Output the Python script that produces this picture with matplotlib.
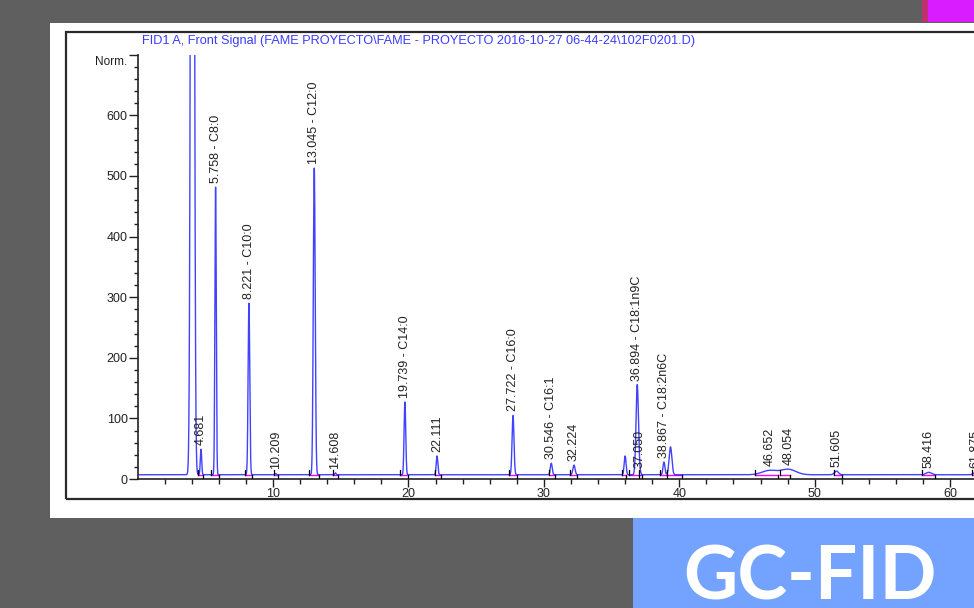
import numpy as np
import matplotlib
matplotlib.use("Agg")
import matplotlib.pyplot as plt
from matplotlib.patches import Rectangle

W, H = 974, 608

# peak table (retention time, apex height, width)
peak_rt = [4.05, 4.681, 5.758, 8.221, 10.209, 13.045, 14.608, 19.739, 22.111,
           27.722, 30.546, 32.224, 36.0, 36.894, 37.050, 38.867, 39.35,
           46.652, 48.054, 51.605, 58.416, 61.875]
peak_height = [3000, 49, 482, 290, 9, 513, 10, 127, 38,
               105, 26, 23, 38, 155, 12, 28, 53,
               14, 16, 13, 11, 11]
peak_sigma = [0.10, 0.05, 0.05, 0.06, 0.05, 0.07, 0.05, 0.06, 0.06,
              0.07, 0.07, 0.08, 0.07, 0.09, 0.08, 0.07, 0.10,
              0.55, 0.55, 0.15, 0.20, 0.15]
peak_label = ["", "4.681", "5.758 - C8:0", "8.221 - C10:0", "10.209",
              "13.045 - C12:0", "14.608", "19.739 - C14:0", "22.111",
              "27.722 - C16:0", "30.546 - C16:1", "32.224", "",
              "36.894 - C18:1n9C", "37.050", "38.867 - C18:2n6C", "",
              "46.652", "48.054", "51.605", "58.416", "61.875"]
# integration events (start / end of each peak)
int_start = [np.nan, 4.45, 5.45, 7.95, 10.05, 12.65, 14.45, 19.4, 21.95,
             27.4, 30.35, 31.95, 35.75, 36.3, 37.0, 38.6, 39.1,
             45.6, 47.4, 51.4, 57.9, 61.6]
int_end = [np.nan, 4.85, 6.0, 8.45, 10.4, 13.4, 14.8, 20.0, 22.4,
           28.0, 30.85, 32.45, 36.1, 37.0, 37.25, 39.1, 40.2,
           47.3, 48.2, 52.0, 58.9, 62.2]
baseline = 7

title = "FID1 A, Front Signal (FAME PROYECTO\\FAME - PROYECTO 2016-10-27 06-44-24\\102F0201.D)"


def fx(px):
    return px / W


def fy(py):
    return 1 - py / H


fig = plt.figure(figsize=(W / 100, H / 100), dpi=100, facecolor="#5f5f5f")

# slide decorations
fig.add_artist(Rectangle((fx(50), fy(518)), fx(930), 495 / H, transform=fig.transFigure,
                         facecolor="white", edgecolor="none", zorder=-10))
fig.add_artist(Rectangle((fx(66), fy(499)), fx(930), 467 / H, transform=fig.transFigure,
                         facecolor="none", edgecolor="#2a2a2a", lw=1.6, zorder=-5))
fig.add_artist(Rectangle((fx(922), fy(22)), fx(6), 22 / H, transform=fig.transFigure,
                         facecolor="#c0306e", edgecolor="none"))
fig.add_artist(Rectangle((fx(928), fy(22)), fx(50), 22 / H, transform=fig.transFigure,
                         facecolor="#d91cff", edgecolor="none"))
fig.add_artist(Rectangle((fx(633), 0), fx(345), 90 / H, transform=fig.transFigure,
                         facecolor="#73a2ff", edgecolor="none"))
fig.text(fx(810), fy(600), "GC-FID", ha="center", va="baseline", fontsize=54,
         fontweight="bold", family="Lato", color="white")

fig.text(fx(142), fy(41), title, ha="left", va="center", fontsize=9.2,
         family="Liberation Sans", color="#3b3bff")

# chromatogram axes
ax = fig.add_axes([fx(137.6), fy(479), (984 - 137.6) / W, (479 - 54.8) / H])
ax.set_facecolor("none")

t = np.linspace(0, 62.5, 12501)
signal = np.full_like(t, baseline, dtype=float)
for rt, h, s in zip(peak_rt, peak_height, peak_sigma):
    signal += (h - baseline) * np.exp(-0.5 * ((t - rt) / s) ** 2)

ax.plot(t, signal, color="#2020ff", lw=1.0, alpha=0.85, zorder=3)

for s0, s1 in zip(int_start, int_end):
    if np.isnan(s0):
        continue
    ax.plot([s0, s1], [baseline, baseline], color="#ff00ff", lw=1.0, zorder=2)
    ax.plot([s0, s0], [baseline, baseline + 8], color="black", lw=0.9, zorder=4)
    ax.plot([s1, s1], [baseline, baseline - 8], color="black", lw=0.9, zorder=4)

for rt, h, lab in zip(peak_rt, peak_height, peak_label):
    if lab:
        ax.annotate(lab, (rt, h), xytext=(0, 3), textcoords="offset points",
                    rotation=90, ha="center", va="bottom", fontsize=9,
                    family="Liberation Sans", color="#222222",
                    annotation_clip=False)

ax.set_xlim(0, 62.5)
ax.set_ylim(0, 700)
ax.set_xticks(range(10, 70, 10))
ax.set_xticks(np.arange(2, 64, 2), minor=True)
ax.set_yticks(range(0, 800, 100))
ax.set_yticklabels([str(v) for v in range(0, 700, 100)] + [""])
ax.set_yticks(range(0, 720, 20), minor=True)

for side in ["top", "right"]:
    ax.spines[side].set_visible(False)
for side in ["left", "bottom"]:
    ax.spines[side].set_color("#222222")
    ax.spines[side].set_linewidth(1.2)

ax.tick_params(axis="x", which="major", length=5.8, width=1, pad=1, labelsize=9,
               color="#222222", labelcolor="#222222")
ax.tick_params(axis="x", which="minor", length=3.4, width=1, color="#222222")
ax.tick_params(axis="y", which="major", length=6.2, width=1, pad=1, labelsize=9,
               color="#222222", labelcolor="#222222")
ax.tick_params(axis="y", which="minor", length=3.0, width=1, color="#222222")
for lbl in ax.get_xticklabels() + ax.get_yticklabels():
    lbl.set_family("Liberation Sans")

ax.text(-0.0125, 688, "Norm.", transform=ax.get_yaxis_transform(), ha="right",
        va="center", fontsize=8.5, family="Liberation Sans", color="#222222")

fig.savefig("out.png", dpi=100, facecolor=fig.get_facecolor())
